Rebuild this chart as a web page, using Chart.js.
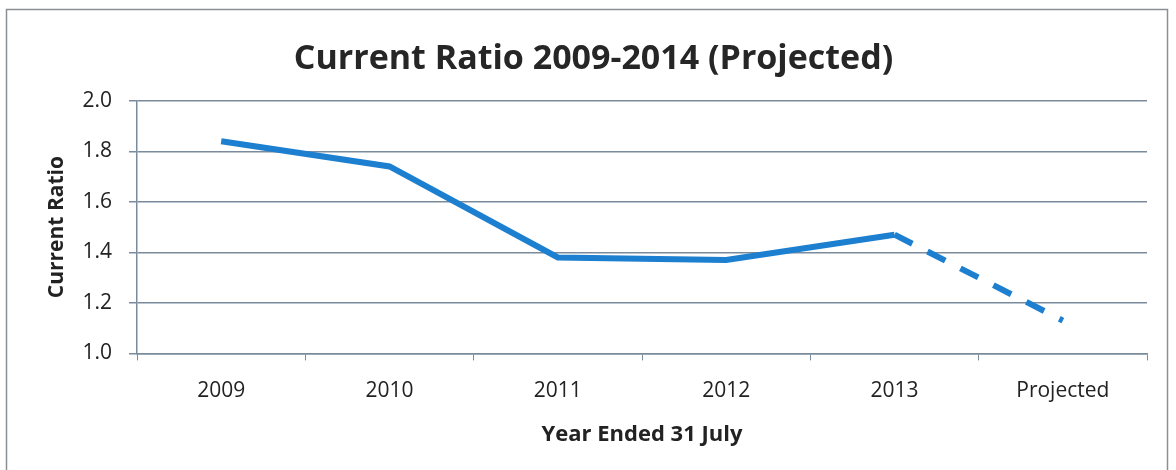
<!DOCTYPE html>
<html>
<head>
<meta charset="utf-8">
<script src="https://cdn.jsdelivr.net/npm/chart.js@4"></script>
<style>
  html, body { margin: 0; padding: 0; background: #fff; }
  #wrap { width: 1176px; height: 470px; }
</style>
</head>
<body>
<div id="wrap"><canvas id="chart" width="1176" height="470"></canvas></div>
<script>
const years = ['2009', '2010', '2011', '2012', '2013', 'Projected'];
const currentRatio = [1.84, 1.74, 1.38, 1.37, 1.47, 1.13];
const yTicks = [1.0, 1.2, 1.4, 1.6, 1.8, 2.0];

const FONT = '"Open Sans", Lato, sans-serif';
const GRID = '#7a8b9b';

// outer frame around the whole chart
const framePlugin = {
  id: 'frame',
  afterDraw(chart) {
    const ctx = chart.ctx;
    ctx.save();
    ctx.strokeStyle = '#8a8f94';
    ctx.lineWidth = 1.5;
    ctx.strokeRect(6.5, 9.5, 1161, 470);
    ctx.restore();
  }
};

new Chart(document.getElementById('chart').getContext('2d'), {
  type: 'line',
  data: {
    labels: years,
    datasets: [{
      label: 'Current Ratio',
      data: currentRatio,
      borderColor: '#1d7fcf',
      borderWidth: 6,
      pointRadius: 0,
      tension: 0,
      fill: false,
      segment: {
        // last segment to the projection is dashed
        borderDash: ctx => ctx.p1DataIndex === years.length - 1 ? [20, 17] : undefined
      }
    }]
  },
  options: {
    responsive: false,
    animation: false,
    layout: { padding: { left: 40, right: 29, top: 39, bottom: 18 } },
    plugins: {
      legend: { display: false },
      tooltip: { enabled: false },
      title: {
        display: true,
        text: 'Current Ratio 2009-2014 (Projected)',
        color: '#262626',
        font: { family: FONT, size: 34, weight: 'bold' },
        padding: { top: 0, bottom: 21 }
      }
    },
    scales: {
      x: {
        offset: true,
        grid: {
          offset: true,
          drawOnChartArea: false,
          color: GRID,
          tickLength: 7,
          tickColor: GRID
        },
        border: { color: GRID, width: 1.5 },
        ticks: {
          color: '#222',
          font: { family: FONT, size: 21 },
          padding: 18
        },
        title: {
          display: true,
          text: 'Year Ended 31 July',
          color: '#222',
          font: { family: FONT, size: 22, weight: 'bold' },
          padding: { top: 0, bottom: 4 }
        }
      },
      y: {
        min: 1.0,
        max: 2.0,
        afterBuildTicks: axis => { axis.ticks = yTicks.map(v => ({ value: v })); },
        afterFit: axis => { axis.width = 97; },
        grid: {
          color: GRID,
          lineWidth: 1.5,
          tickLength: 8,
          tickColor: GRID
        },
        border: { color: GRID, width: 1.5 },
        ticks: {
          color: '#222',
          font: { family: FONT, size: 21 },
          padding: 17,
          callback: v => Number(v).toFixed(1)
        },
        title: {
          display: true,
          text: 'Current Ratio',
          color: '#222',
          font: { family: FONT, size: 21, weight: 'bold' },
          padding: { bottom: 2 }
        }
      }
    }
  },
  plugins: [framePlugin]
});
</script>
</body>
</html>
